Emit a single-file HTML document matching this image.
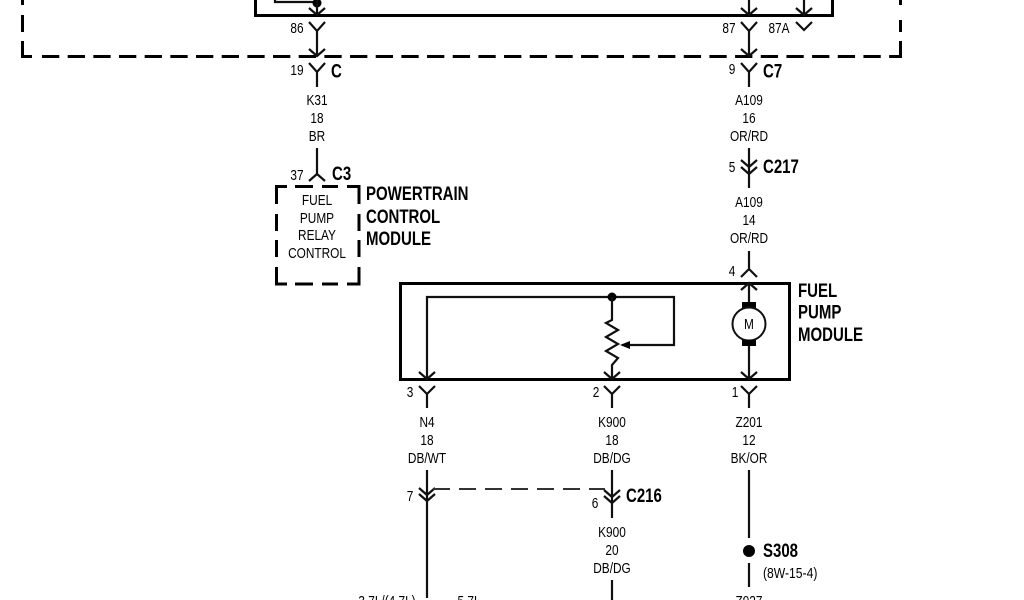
<!DOCTYPE html>
<html>
<head>
<meta charset="utf-8">
<style>
html,body{margin:0;padding:0;background:#fff;width:1024px;height:600px;overflow:hidden}
svg{display:block;filter:blur(.35px)}
text{font-family:"Liberation Sans",sans-serif;fill:#000;transform-box:fill-box}
.s{font-size:15px;text-anchor:middle;transform:scaleX(.79);transform-origin:center}
.b{font-size:19px;font-weight:bold;transform:scaleX(.79);transform-origin:left center}
.l{font-size:15px;transform:scaleX(.81);transform-origin:left center}
.w{fill:none;stroke:#101010;stroke-width:2.2}
.k{fill:none;stroke:#000;stroke-width:3}
</style>
</head>
<body>
<svg width="1024" height="600" viewBox="0 0 1024 600" xmlns="http://www.w3.org/2000/svg">
<!-- outer dashed relay enclosure -->
<path class="k" d="M42 56.5H890" stroke-dasharray="17.3 8.37"/>
<path class="k" d="M22.5 0V5M22.5 15V32M22.5 41V56.5H32"/>
<path class="k" d="M900.5 0V5M900.5 20V32M900.5 41V56.5H890"/>
<!-- inner box -->
<path class="k" d="M255.5 0V15.5H832.5V0"/>
<path class="w" d="M275 0V2H317"/>
<circle cx="317" cy="3" r="4.5" fill="#000"/>
<path class="w" d="M317 0V15M309 8L317 15L325 8"/>
<path class="w" d="M749 0V15M741 8L749 15L757 8"/>
<path class="w" d="M804 0V15M796 8L804 15L812 8"/>
<!-- 86 / 19 -->
<path class="w" d="M309 22L317 31L325 22M317 31V56M309 49L317 56L325 49"/>
<path class="w" d="M309 63L317 72L325 63M317 72V87"/>
<path class="w" d="M317 148V174M309 181L317 174L325 181"/>
<!-- 87 / 9 / 87A -->
<path class="w" d="M741 22L749 31L757 22M749 31V56M741 49L749 56L757 49"/>
<path class="w" d="M796 22L804 30L812 22"/>
<path class="w" d="M741 63L749 72L757 63M749 72V87"/>
<!-- C217 -->
<path class="w" d="M749 148V188M741 160L749 167L757 160M741 167L749 174L757 167"/>
<!-- 4 -->
<path class="w" d="M749 251V269M741 277L749 269L757 277"/>
<!-- PCM dashed box -->
<path class="k" d="M276.5 204V186.5H287M295 186.5H313M322 186.5H338M347 186.5H359V204M276.5 214V231M359 214V231M276.5 240V257M359 240V257M276.5 267V284H287M359 267V284H347M295 284H313M322 284H338"/>
<!-- Fuel pump module box -->
<rect class="k" x="400.5" y="283.5" width="389" height="96"/>
<path class="w" d="M749 283V302M741 290L749 283L757 290"/>
<rect x="742" y="302" width="14" height="6" fill="#000"/>
<circle cx="749" cy="324" r="16.5" fill="#fff" stroke="#101010" stroke-width="2"/>
<rect x="742" y="340" width="14" height="6" fill="#000"/>
<path class="w" d="M749 346V379M741 372L749 379L757 372"/>
<path class="w" d="M427 379V297H674V345H628"/>
<path d="M620 345L630 341V349Z" fill="#000"/>
<circle cx="612" cy="297" r="4.5" fill="#000"/>
<path class="w" d="M612 297V320L606 323L618 330L606 337L618 344L606 351L618 358L612 365V379"/>
<path class="w" d="M419 372L427 379L435 372M604 372L612 379L620 372"/>
<!-- Lower connectors -->
<path class="w" d="M419 386L427 394L435 386M427 394V408"/>
<path class="w" d="M604 386L612 394L620 386M612 394V408"/>
<path class="w" d="M741 386L749 394L757 386M749 394V408"/>
<!-- C216 & wires -->
<path class="w" d="M427 470V598M419 488L427 495L435 488M419 494L427 501L435 494"/>
<path class="w" d="M612 470V518M604 490L612 497L620 490M604 496L612 503L620 496"/>
<path d="M433 489H605" fill="none" stroke="#333" stroke-width="2" stroke-dasharray="17 9"/>
<path class="w" d="M612 580V600"/>
<path class="w" d="M749 470V538M749 563V587"/>
<circle cx="749" cy="551" r="6" fill="#000"/>

<!-- Labels -->
<text class="s" x="297" y="33">86</text>
<text class="s" x="297" y="75">19</text>
<text class="b" x="331" y="77.5">C</text>
<text class="s" x="317" y="105">K31</text>
<text class="s" x="317" y="123">18</text>
<text class="s" x="317" y="141">BR</text>
<text class="s" x="297" y="180">37</text>
<text class="b" x="332" y="180">C3</text>
<text class="s" x="317" y="205">FUEL</text>
<text class="s" x="317" y="223">PUMP</text>
<text class="s" x="317" y="240">RELAY</text>
<text class="s" x="317" y="258">CONTROL</text>
<text class="b" x="366" y="200">POWERTRAIN</text>
<text class="b" x="366" y="223">CONTROL</text>
<text class="b" x="366" y="245">MODULE</text>

<text class="s" x="729" y="33">87</text>
<text class="s" x="779" y="33">87A</text>
<text class="s" x="732" y="74">9</text>
<text class="b" x="763" y="77.5">C7</text>
<text class="s" x="749" y="105">A109</text>
<text class="s" x="749" y="123">16</text>
<text class="s" x="749" y="141">OR/RD</text>
<text class="s" x="732" y="172">5</text>
<text class="b" x="763" y="173">C217</text>
<text class="s" x="749" y="207">A109</text>
<text class="s" x="749" y="225">14</text>
<text class="s" x="749" y="243">OR/RD</text>
<text class="s" x="732" y="276">4</text>
<text class="b" x="798" y="297">FUEL</text>
<text class="b" x="798" y="318.5">PUMP</text>
<text class="b" x="798" y="341">MODULE</text>
<text class="s" x="749" y="329">M</text>

<text class="s" x="410" y="397">3</text>
<text class="s" x="596" y="397">2</text>
<text class="s" x="735" y="397">1</text>
<text class="s" x="427" y="427">N4</text>
<text class="s" x="427" y="445">18</text>
<text class="s" x="427" y="463">DB/WT</text>
<text class="s" x="612" y="427">K900</text>
<text class="s" x="612" y="445">18</text>
<text class="s" x="612" y="463">DB/DG</text>
<text class="s" x="749" y="427">Z201</text>
<text class="s" x="749" y="445">12</text>
<text class="s" x="749" y="463">BK/OR</text>
<text class="s" x="410" y="501">7</text>
<text class="s" x="595" y="508">6</text>
<text class="b" x="626" y="502">C216</text>
<text class="s" x="612" y="537">K900</text>
<text class="s" x="612" y="555">20</text>
<text class="s" x="612" y="573">DB/DG</text>
<text class="b" x="763" y="557">S308</text>
<text class="l" x="763" y="578">(8W-15-4)</text>
<text class="s" x="749" y="606">Z927</text>
<text class="s" x="387" y="606">3.7L/(4.7L)</text>
<text class="s" x="469" y="606">5.7L</text>
</svg>
</body>
</html>
